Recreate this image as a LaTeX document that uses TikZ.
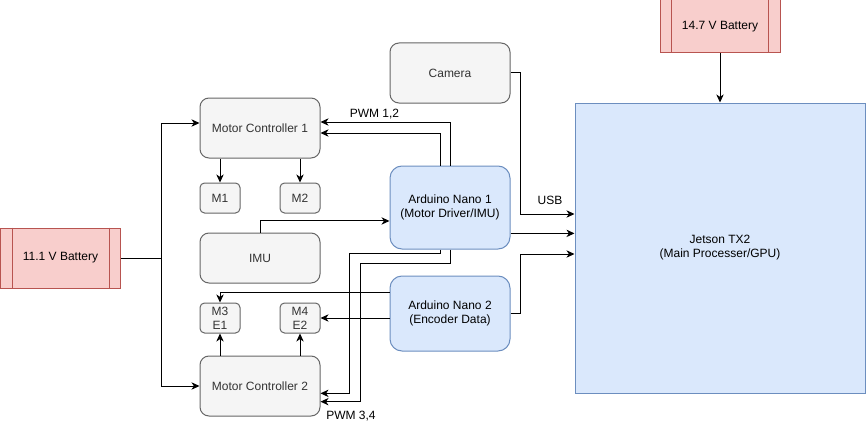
\documentclass[tikz,border=0pt]{standalone}
\usepackage{fontspec}
\setmainfont{Liberation Sans}
\usetikzlibrary{arrows.meta,calc}
\definecolor{gfill}{HTML}{F5F5F5}
\definecolor{gline}{HTML}{666666}
\definecolor{gtext}{HTML}{333333}
\definecolor{bfill}{HTML}{DAE8FC}
\definecolor{bline}{HTML}{6C8EBF}
\definecolor{rfill}{HTML}{F8CECC}
\definecolor{rline}{HTML}{B85450}
\tikzset{
  base/.style={font=\fontsize{9pt}{10.5pt}\selectfont, align=center, inner sep=0pt, line width=0.75pt},
  graybox/.style={base, draw=gline, fill=gfill, text=gtext, rounded corners=6.75pt, minimum width=90pt, minimum height=45pt},
  smallbox/.style={base, draw=gline, fill=gfill, text=gtext, rounded corners=3.4pt, minimum width=30pt, minimum height=22.5pt},
  bluebox/.style={base, draw=bline, fill=bfill, text=black, rounded corners=9pt, minimum width=90pt},
  redbox/.style={base, draw=rline, fill=rfill, text=black, minimum width=90pt},
  redinner/.style={draw=rline, line width=0.75pt},
  arr/.style={line width=0.75pt, draw=black, -{Stealth[length=6pt,width=5.5pt,inset=1.8pt]}},
  conn/.style={line width=0.75pt, draw=black},
  lbl/.style={font=\fontsize{9pt}{10.5pt}\selectfont, inner sep=0pt, text=black}
}
\begin{document}
\begin{tikzpicture}[x=0.75pt,y=-0.75pt]
\useasboundingbox (0,0) rectangle (867,428);
% nodes
\node[redbox, minimum height=45pt] (bat1) at (60.5,258) {11.1 V Battery};
\node[graybox] (mc1) at (260,128) {Motor Controller 1};
\node[smallbox] (m1) at (220,198) {M1};
\node[smallbox] (m2) at (300,198) {M2};
\node[graybox, minimum height=37.5pt] (imu) at (260,258) {IMU};
\node[smallbox] (m3) at (220,318) {M3\\E1};
\node[smallbox] (m4) at (300,318) {M4\\E2};
\node[graybox] (mc2) at (260,386) {Motor Controller 2};
\node[graybox] (cam) at (450,73) {Camera};
\node[bluebox, minimum height=62.25pt] (ard1) at (450,207.5) {Arduino Nano 1\\(Motor Driver/IMU)};
\node[bluebox, minimum height=56.25pt] (ard2) at (450,313.5) {Arduino Nano 2\\(Encoder Data)};
\node[base, draw=bline, fill=bfill, text=black, minimum width=217.5pt, minimum height=217.5pt] (jet) at (720,248) {Jetson TX2\\(Main Processer/GPU)};
\node[redbox, minimum height=39.75pt] (bat2) at (720,26.5) {14.7 V Battery};
% battery inner lines
\draw[redinner] ([xshift=9pt]bat1.north west) -- ([xshift=9pt]bat1.south west);
\draw[redinner] ([xshift=-9pt]bat1.north east) -- ([xshift=-9pt]bat1.south east);
\draw[redinner] ([xshift=9pt]bat2.north west) -- ([xshift=9pt]bat2.south west);
\draw[redinner] ([xshift=-9pt]bat2.north east) -- ([xshift=-9pt]bat2.south east);
% battery 1 to motor controllers
\draw[conn] (bat1.east) -- ++(40,0) coordinate (j1);
\draw[arr] (j1) |- ([yshift=3.75pt]mc1.west);
\draw[arr] (j1) |- (mc2.west);
% motor controllers to motors
\draw[arr] (m1.north |- mc1.south) -- (m1.north);
\draw[arr] (m2.north |- mc1.south) -- (m2.north);
\draw[arr] (m3.south |- mc2.north) -- (m3.south);
\draw[arr] (m4.south |- mc2.north) -- (m4.south);
% IMU to Arduino 1
\draw[arr] (imu.north) |- ([yshift=-10.1pt]ard1.west);
% Arduino 1 to MC1 (PWM 1,2)
\draw[arr] ([xshift=0.5pt]ard1.north) |- ([yshift=4.5pt]mc1.east);
\draw[arr] ([xshift=-7.25pt]ard1.north) |- ([yshift=-3.75pt]mc1.east);
\node[lbl] (pwm12) at (374.5,114) {PWM 1,2};
% Arduino 1 to MC2 (PWM 3,4)
\coordinate (p1) at (349.3,253.3);
\coordinate (p2) at (360.7,263.3);
\draw[arr] ([xshift=-7.25pt]ard1.south) |- (p1) |- ([yshift=-5.5pt]mc2.east);
\draw[arr] ([xshift=0.5pt]ard1.south) |- (p2) |- ([yshift=-11.75pt]mc2.east);
\node[lbl] (pwm34) at (351,416.5) {PWM 3,4};
% Arduino 2 to motors/encoders
\draw[arr] ([yshift=15.9pt]ard2.west) -| (m3.north);
\draw[arr] (m4.east -| ard2.west) -- (m4.east);
% to Jetson
\draw[arr] (cam.east) -- ++(10,0) |- ([yshift=25.5pt]jet.west);
\node[lbl] (usb) at (550,200) {USB};
\coordinate (a1o) at ([yshift=-19.4pt]ard1.east);
\draw[arr] (a1o) -- (a1o -| jet.west);
\draw[arr] (ard2.east) -- ++(10,0) |- ([yshift=-4.5pt]jet.west);
\draw[arr] (bat2.south) -- (jet.north);
\end{tikzpicture}
\end{document}
